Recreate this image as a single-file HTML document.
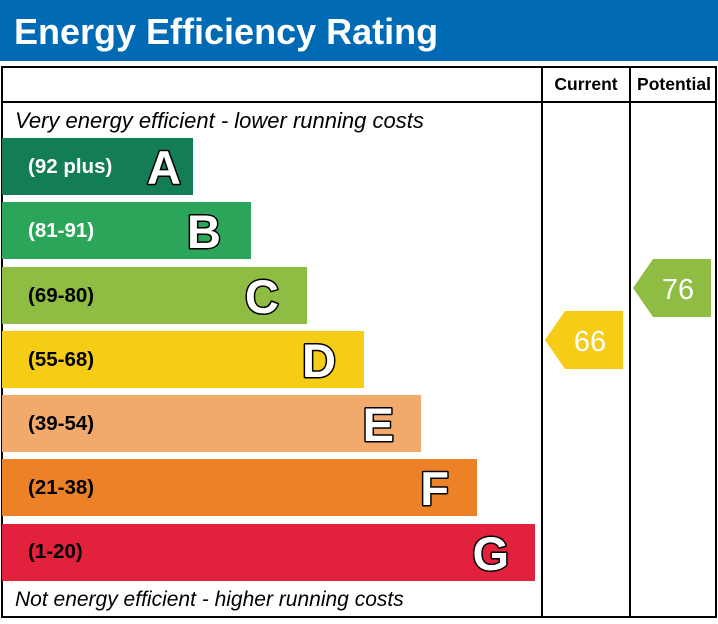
<!DOCTYPE html><html><head><style>body{margin:0;background:#fff}</style></head><body>
<svg width="718" height="619" xmlns="http://www.w3.org/2000/svg" font-family="Liberation Sans, Arial, sans-serif">
<rect x="0" y="0" width="718" height="61" fill="#006ab4"/>
<text x="14" y="44" font-size="36" font-weight="bold" fill="#fff">Energy Efficiency Rating</text>
<rect x="2" y="67" width="714" height="550" fill="none" stroke="#000" stroke-width="2"/>
<line x1="2" y1="102" x2="716" y2="102" stroke="#000" stroke-width="2"/>
<line x1="542" y1="67" x2="542" y2="617" stroke="#000" stroke-width="2"/>
<line x1="630" y1="67" x2="630" y2="617" stroke="#000" stroke-width="2"/>
<text x="586" y="90" font-size="17.5" font-weight="bold" text-anchor="middle">Current</text>
<text x="674" y="90" font-size="17.5" font-weight="bold" text-anchor="middle">Potential</text>
<text x="15" y="128" font-size="22" font-style="italic">Very energy efficient - lower running costs</text>
<text x="15" y="606" font-size="21" font-style="italic">Not energy efficient - higher running costs</text>
<g font-weight="bold">
<rect x="2" y="138" width="191" height="57" fill="#137e56"/>
<text x="28" y="173" font-size="20.5" fill="#fff">(92 plus)</text>
<rect x="2" y="202" width="249" height="57" fill="#2aa55a"/>
<text x="28" y="237" font-size="20.5" fill="#fff">(81-91)</text>
<rect x="2" y="267" width="305" height="57" fill="#8fbd43"/>
<text x="28" y="302" font-size="20.5" fill="#000">(69-80)</text>
<rect x="2" y="331" width="362" height="57" fill="#f5cc16"/>
<text x="28" y="366" font-size="20.5" fill="#000">(55-68)</text>
<rect x="2" y="395" width="419" height="57" fill="#f2aa6c"/>
<text x="28" y="430" font-size="20.5" fill="#000">(39-54)</text>
<rect x="2" y="459" width="475" height="57" fill="#ec8127"/>
<text x="28" y="494" font-size="20.5" fill="#000">(21-38)</text>
<rect x="2" y="524" width="533" height="57" fill="#e2213c"/>
<text x="28" y="558" font-size="20.5" fill="#000">(1-20)</text>
<g font-size="47" fill="#fff" stroke="#000" stroke-width="3" paint-order="stroke" text-anchor="end" stroke-linejoin="round">
<text x="181" y="184">A</text>
<text x="221" y="248">B</text>
<text x="279" y="313">C</text>
<text x="336" y="377">D</text>
<text x="394" y="441">E</text>
<text x="449" y="505">F</text>
<text x="509" y="570">G</text>
</g></g>
<polygon points="545,340 565,311 623,311 623,369 565,369" fill="#f5cc16"/>
<text x="590" y="351" font-size="29" fill="#fff" text-anchor="middle">66</text>
<polygon points="633,288 653,259 711,259 711,317 653,317" fill="#8fbd43"/>
<text x="678" y="299" font-size="29" fill="#fff" text-anchor="middle">76</text>
</svg>
</body></html>
